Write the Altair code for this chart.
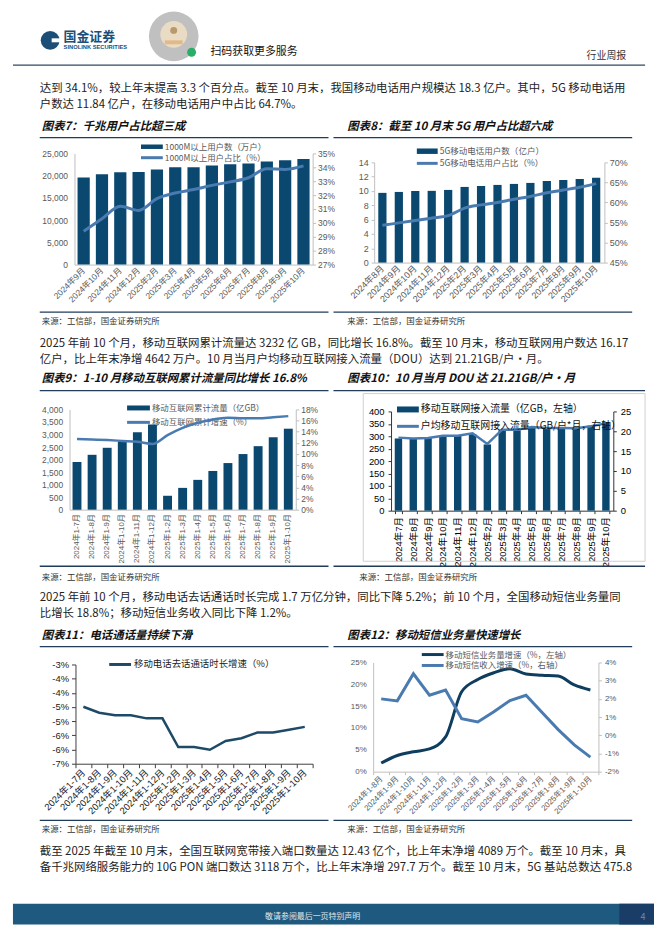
import altair as alt
import pandas as pd

FONT = "Noto Sans CJK SC"
LAT = "Liberation Sans, Noto Sans CJK SC"

NAVY = "#0b4870"
LIGHT = "#4a7bb0"
RULE = "#1f3d5a"
GREY = "#595959"

# ---------------- data ----------------
m7 = ["2024年9月", "2024年10月", "2024年11月", "2024年12月", "2025年2月", "2025年3月", "2025年4月",
      "2025年5月", "2025年6月", "2025年7月", "2025年8月", "2025年9月", "2025年10月"]
users7 = [19600, 20300, 20750, 20800, 21400, 21900, 21900, 22300, 22550, 22750, 23200, 23450, 23750]
share7 = [29.4, 30.3, 31.2, 30.9, 31.75, 32.15, 32.4, 32.7, 32.95, 33.25, 33.9, 33.85, 34.1]

m8 = ["2024年8月", "2024年9月", "2024年10月", "2024年11月", "2024年12月", "2025年2月", "2025年3月",
      "2025年4月", "2025年5月", "2025年6月", "2025年7月", "2025年8月", "2025年9月", "2025年10月"]
users8 = [9.74, 9.87, 10.0, 10.02, 10.15, 10.57, 10.7, 10.85, 10.99, 11.13, 11.4, 11.54, 11.68, 11.84]
share8 = [54.3, 54.9, 55.5, 56.1, 56.7, 58.6, 59.4, 60.0, 60.8, 61.5, 62.4, 63.1, 63.8, 64.7]

m9 = ["2024年1-7月", "2024年1-8月", "2024年1-9月", "2024年1-10月", "2024年1-11月", "2024年1-12月",
      "2025年1-2月", "2025年1-3月", "2025年1-4月", "2025年1-5月", "2025年1-6月", "2025年1-7月",
      "2025年1-8月", "2025年1-9月", "2025年1-10月"]
flow9 = [1900, 2190, 2470, 2720, 3090, 3400, 555, 870, 1190, 1545, 1860, 2220, 2535, 2890, 3232]
growth9 = [12.7, 12.6, 12.5, 12.35, 12.2, 11.8, 13.4, 14.7, 15.6, 16.2, 16.5, 16.4, 16.4, 16.6, 16.8]

m10 = ["2024年7月", "2024年8月", "2024年9月", "2024年10月", "2024年11月", "2024年12月", "2025年2月",
       "2025年3月", "2025年4月", "2025年5月", "2025年6月", "2025年7月", "2025年8月", "2025年9月", "2025年10月"]
flow10 = [291, 290, 293, 301, 301, 309, 267, 327, 324, 337, 335, 333, 332, 343, 357]
dou10 = [18.4, 18.2, 18.3, 18.9, 18.9, 19.5, 16.8, 20.4, 20.4, 21.1, 20.8, 20.8, 20.75, 21.25, 22.0]

m11 = list(m9)
call11 = [-4.49, -4.70, -4.79, -4.79, -4.90, -4.90, -5.91, -5.91, -6.01, -5.70, -5.60, -5.40, -5.40, -5.30, -5.20]

m12 = ["2024年1-8月", "2024年1-9月", "2024年1-10月", "2024年1-11月", "2024年1-12月", "2025年1-2月",
       "2025年1-3月", "2025年1-4月", "2025年1-5月", "2025年1-6月", "2025年1-7月", "2025年1-8月",
       "2025年1-9月", "2025年1-10月"]
sms12 = [1.97, 3.7, 4.55, 5.2, 7.95, 18.3, 21.1, 22.65, 23.56, 22.35, 22.1, 21.9, 19.85, 18.7]
rev12 = [2.0, 1.89, 3.38, 2.2, 2.49, 0.91, 0.73, 1.29, 1.91, 2.2, 1.25, 0.31, -0.53, -1.2]

para1 = ["达到 34.1%，较上年末提高 3.3 个百分点。截至 10 月末，我国移动电话用户规模达 18.3 亿户。其中，5G 移动电话用",
         "户数达 11.84 亿户，在移动电话用户中占比 64.7%。"]
para2 = ["2025 年前 10 个月，移动互联网累计流量达 3232 亿 GB，同比增长 16.8%。截至 10 月末，移动互联网用户数达 16.17",
         "亿户，比上年末净增 4642 万户。10 月当月户均移动互联网接入流量（DOU）达到 21.21GB/户·月。"]
para3 = ["2025 年前 10 个月，移动电话去话通话时长完成 1.7 万亿分钟，同比下降 5.2%；前 10 个月，全国移动短信业务量同",
         "比增长 18.8%；移动短信业务收入同比下降 1.2%。"]
para4 = ["截至 2025 年截至 10 月末，全国互联网宽带接入端口数量达 12.43 亿个，比上年末净增 4089 万个。截至 10 月末，具",
         "备千兆网络服务能力的 10G PON 端口数达 3118 万个，比上年末净增 297.7 万个。截至 10 月末，5G 基站总数达 475.8"]
SRC = "来源：工信部，国金证券研究所"

ONE = pd.DataFrame({"k": [0]})

# whole page is one canvas; page coordinate p -> local p - 8
W, H = 646, 920
OX, OY = 8, 8


def X(p):
    return p - OX


def Y(p):
    return p - OY


def text(x, y, s, size=11.5, color="#222222", weight="normal", style="normal",
         align="left", font=FONT, baseline="middle"):
    return alt.Chart(ONE).mark_text(
        text=s, fontSize=size, color=color, fontWeight=weight, fontStyle=style,
        align=align, baseline=baseline, font=font
    ).encode(x=alt.value(X(x)), y=alt.value(Y(y)))


def hline(x1, x2, y, color, w=1.3):
    return alt.Chart(ONE).mark_rule(color=color, strokeWidth=w).encode(
        x=alt.value(X(x1)), x2=alt.value(X(x2)), y=alt.value(Y(y)))


def box(x1, x2, y1, y2, fill="#ffffff", stroke=None, sw=1.0, fo=1.0):
    kw = dict(fill=fill, fillOpacity=fo)
    if stroke:
        kw.update(stroke=stroke, strokeWidth=sw)
    return alt.Chart(ONE).mark_rect(**kw).encode(
        x=alt.value(X(x1)), x2=alt.value(X(x2)), y=alt.value(Y(y1)), y2=alt.value(Y(y2)))


def dot(x, y, d, color, opacity=1.0):
    return alt.Chart(ONE).mark_point(filled=True, shape="circle", size=d * d, color=color,
                                     opacity=opacity, strokeWidth=0).encode(
        x=alt.value(X(x)), y=alt.value(Y(y)))


def ax(**kw):
    base = dict(title=None, grid=False, labelFont=LAT, labelFontSize=8.5, labelColor=GREY,
                domainColor="#bfbfbf", tickColor="#bfbfbf", labelOverlap=False, labelBound=False)
    base.update(kw)
    return alt.Axis(**base)


def xrange(p0, p1):
    return [X(p0), X(p1)]


def yrange(pbottom, ptop):
    return [Y(pbottom), Y(ptop)]


def left_off(p):
    return -X(p)


def right_off(p):
    return X(p) - W


def bottom_off(p):
    return Y(p) - H


def para(y0, lines, gap=16):
    return [text(35, y0 + i * gap, s) for i, s in enumerate(lines)]


# ---------------- chart 7 (plot: x 70-310, y 151-263) ----------------
df7 = pd.DataFrame({"m": m7, "v": users7, "p": share7})
x7 = alt.X("m:N", sort=m7,
           scale=alt.Scale(paddingInner=0.333, paddingOuter=0.167, range=xrange(70, 310)),
           axis=ax(orient="bottom", labelAngle=-45, labelAlign="right", labelBaseline="middle", ticks=False,
                   labelPadding=4, offset=bottom_off(263)))
bars7 = alt.Chart(df7).mark_bar(color=NAVY).encode(
    x=x7, y=alt.Y("v:Q", scale=alt.Scale(domain=[0, 25000], nice=False, range=yrange(263, 151)),
                  axis=ax(orient="left", values=list(range(0, 25001, 5000)), format=",.0f", ticks=False,
                          labelPadding=7, offset=left_off(70))))
line7 = alt.Chart(df7).mark_line(color=LIGHT, strokeWidth=3, interpolate="monotone").encode(
    x=x7, y=alt.Y("p:Q", scale=alt.Scale(domain=[27, 35], nice=False, zero=False, range=yrange(263, 151)),
                  axis=ax(orient="right", values=list(range(27, 36)), labelExpr="datum.value + '%'",
                          tickSize=3, labelPadding=2, offset=right_off(310))))
c7 = alt.layer(bars7, line7).resolve_scale(y="independent")
leg7 = [box(137, 159, 142, 146.5, fill=NAVY),
        text(161, 144.3, "1000M以上用户数（万户）", size=8.5, color=GREY),
        hline(137, 159, 155.3, LIGHT, 3),
        text(161, 155.3, "1000M以上用户占比（%）", size=8.5, color=GREY)]

# ---------------- chart 8 (plot: x 372-604, y 160-261) ----------------
df8 = pd.DataFrame({"m": m8, "v": users8, "p": share8})
x8 = alt.X("m:N", sort=m8,
           scale=alt.Scale(paddingInner=0.5, paddingOuter=0.25, range=xrange(372, 604)),
           axis=ax(orient="bottom", labelAngle=-45, labelAlign="right", labelBaseline="middle", ticks=False,
                   labelPadding=4, labelFontSize=9, offset=bottom_off(261)))
bars8 = alt.Chart(df8).mark_bar(color=NAVY).encode(
    x=x8, y=alt.Y("v:Q", scale=alt.Scale(domain=[0, 14], nice=False, range=yrange(261, 160)),
                  axis=ax(orient="left", values=list(range(0, 15, 2)), tickSize=3, labelPadding=3,
                          labelFontSize=9, offset=left_off(372))))
line8 = alt.Chart(df8).mark_line(color=LIGHT, strokeWidth=3, interpolate="monotone").encode(
    x=x8, y=alt.Y("p:Q", scale=alt.Scale(domain=[45, 70], nice=False, zero=False, range=yrange(261, 160)),
                  axis=ax(orient="right", values=list(range(45, 71, 5)), labelExpr="datum.value + '%'",
                          tickSize=3, labelPadding=2, labelFontSize=9, offset=right_off(604))))
c8 = alt.layer(bars8, line8).resolve_scale(y="independent")
leg8 = [box(415, 436, 146, 151.5, fill=NAVY),
        text(438, 148.8, "5G移动电话用户数（亿户）", size=8.6, color=GREY),
        hline(415, 436, 161, LIGHT, 3),
        text(438, 161, "5G移动电话用户占比（%）", size=8.6, color=GREY)]

# ---------------- chart 9 (plot: x 65-293, y 409-510) ----------------
df9 = pd.DataFrame({"m": m9, "v": flow9, "p": growth9})
x9 = alt.X("m:N", sort=m9,
           scale=alt.Scale(paddingInner=0.41, paddingOuter=0.2, range=xrange(65, 293)),
           axis=ax(orient="bottom", labelAngle=-90, labelAlign="right", labelBaseline="middle", ticks=False,
                   labelPadding=4, labelFontSize=8, offset=bottom_off(510)))
bars9 = alt.Chart(df9).mark_bar(color=NAVY).encode(
    x=x9, y=alt.Y("v:Q", scale=alt.Scale(domain=[0, 4000], nice=False, range=yrange(510, 409)),
                  axis=ax(orient="left", values=list(range(0, 4001, 500)), format=",.0f", ticks=False,
                          labelPadding=7, offset=left_off(65))))
line9 = alt.Chart(df9).mark_line(color=LIGHT, strokeWidth=2.5, interpolate="monotone").encode(
    x=x9, y=alt.Y("p:Q", scale=alt.Scale(domain=[0, 18], nice=False, range=yrange(510, 409)),
                  axis=ax(orient="right", values=list(range(0, 19, 2)), labelExpr="datum.value + '%'",
                          tickSize=3, labelPadding=2, offset=right_off(293))))
c9 = alt.layer(bars9, line9).resolve_scale(y="independent")
leg9 = [box(123, 146, 405, 410, fill=NAVY),
        text(148, 407.5, "移动互联网累计流量（亿GB）", size=8.5, color=GREY),
        hline(123, 146, 422, LIGHT, 3),
        text(148, 422, "移动互联网累计增速（%）", size=8.5, color=GREY)]

# ---------------- chart 10 (plot: x 389-613, y 411-511) ----------------
df10 = pd.DataFrame({"m": m10, "v": flow10, "p": dou10})
ax10 = dict(labelColor="#000000", domainColor="#333333", tickColor="#333333", labelFontSize=9.5)
x10 = alt.X("m:N", sort=m10,
            scale=alt.Scale(paddingInner=0.5, paddingOuter=0.25, range=xrange(389, 613)),
            axis=ax(orient="bottom", labelAngle=-90, labelAlign="right", labelBaseline="middle",
                    tickBand="extent", tickSize=3, labelPadding=3, offset=bottom_off(511), **ax10))
bars10 = alt.Chart(df10).mark_bar(color=NAVY).encode(
    x=x10, y=alt.Y("v:Q", scale=alt.Scale(domain=[0, 400], nice=False, range=yrange(511, 411)),
                   axis=ax(orient="left", values=list(range(0, 401, 50)), tickSize=3, labelPadding=4,
                           offset=left_off(389), **ax10)))
line10 = alt.Chart(df10).mark_line(color=LIGHT, strokeWidth=2.5).encode(
    x=x10, y=alt.Y("p:Q", scale=alt.Scale(domain=[0, 25], nice=False, range=yrange(511, 411)),
                   axis=ax(orient="right", values=list(range(0, 26, 5)), tickSize=3, labelPadding=4,
                           offset=right_off(613), **ax10)))
c10 = alt.layer(bars10, line10).resolve_scale(y="independent")
frame10 = box(361, 645, 393, 562, fill="#ffffff", stroke="#d0d0d0", sw=1, fo=0)
leg10 = [box(395, 417, 406, 412, fill=NAVY),
         text(419, 409, "移动互联网接入流量（亿GB，左轴）", size=10, color="#111111"),
         hline(395, 417, 426, LIGHT, 3),
         text(419, 426, "户均移动互联网接入流量（GB/户*月，右轴）", size=10, color="#111111")]

# ---------------- chart 11 (plot: x 71-310, y 666-766) ----------------
LINE11 = "#1d4a66"
df11 = pd.DataFrame({"m": m11, "v": call11})
vals11 = [-3, -3.5, -4, -4.5, -5, -5.5, -6, -6.5]
c11 = alt.Chart(df11).mark_line(color=LINE11, strokeWidth=2.5).encode(
    x=alt.X("m:N", sort=m11,
            scale=alt.Scale(type="band", paddingInner=0, paddingOuter=0, range=xrange(71, 310)),
            axis=ax(orient="bottom", labelAngle=-45, labelAlign="right", labelBaseline="middle",
                    tickBand="extent", tickSize=4, labelPadding=3, labelFontSize=9.5, labelColor="#1a1a1a",
                    domainColor="#404040", tickColor="#404040", offset=bottom_off(766))),
    y=alt.Y("v:Q", scale=alt.Scale(domain=[-6.5, -3], nice=False, zero=False, range=yrange(766, 666)),
            axis=ax(orient="left", values=vals11, labelExpr="'-' + round(abs(datum.value)) + '%'",
                    tickSize=4, labelPadding=3, labelFontSize=9.5, labelColor="#1a1a1a",
                    domainColor="#404040", tickColor="#404040", offset=left_off(71))))
leg11 = [hline(105, 127, 666, LINE11, 3),
         text(130, 666, "移动电话去话通话时长增速（%）", size=9.5, color="#222222")]

# ---------------- chart 12 (plot: x 371-598, y 664-774) ----------------
DARK12 = "#0e3d5e"
df12 = pd.DataFrame({"m": m12, "a": sms12, "b": rev12})
x12 = alt.X("m:N", sort=m12,
            scale=alt.Scale(type="band", paddingInner=0, paddingOuter=0, range=xrange(371, 598)),
            axis=ax(orient="bottom", labelAngle=-45, labelAlign="right", labelBaseline="middle",
                    tickBand="extent", tickSize=3, labelPadding=3, labelFontSize=8, offset=bottom_off(774)))
l12a = alt.Chart(df12).mark_line(color=DARK12, strokeWidth=3, interpolate="monotone").encode(
    x=x12, y=alt.Y("a:Q", scale=alt.Scale(domain=[0, 25], nice=False, range=yrange(774, 664)),
                   axis=ax(orient="left", values=list(range(0, 26, 5)), labelExpr="datum.value + '%'",
                           ticks=False, labelPadding=7, labelFontSize=8, offset=left_off(371))))
l12b = alt.Chart(df12).mark_line(color=LIGHT, strokeWidth=3).encode(
    x=x12, y=alt.Y("b:Q", scale=alt.Scale(domain=[-2, 4], nice=False, zero=False, range=yrange(774, 664)),
                   axis=ax(orient="right", values=list(range(-2, 5)), labelExpr="datum.value + '%'",
                           tickSize=3, labelPadding=3, labelFontSize=8, offset=right_off(598))))
c12 = alt.layer(l12a, l12b).resolve_scale(y="independent")
leg12 = [hline(420, 442, 656, DARK12, 3),
         text(444, 656, "移动短信业务量增速（%，左轴）", size=8.5, color=GREY),
         hline(420, 442, 667, LIGHT, 3),
         text(444, 667, "移动短信收入增速（%，右轴）", size=8.5, color=GREY)]


# ---------------- page text, rules, header, footer ----------------
def title(x, y, s):
    return text(x, y, s, size=11.5, weight="bold", style="italic", color="#111111")


def src(x, y):
    return text(x, y, SRC, size=8.5, color="#333333")


header = [
    dot(45.5, 37, 19, "#1b4f78"),
    box(47, 56, 35, 39, fill="#ffffff"),
    text(59, 34, "国金证券", size=13, weight="bold", color="#1b4f78"),
    text(59, 44, "SINOLINK SECURITIES", size=5.8, weight="bold", color="#1b4f78", font=LAT),
    dot(170, 33, 50, "#8c8c8c", 0.55),
    dot(170, 31, 27, "#eadbc4"),
    dot(170, 27, 7, "#b89a6a"),
    box(161, 179, 37, 41, fill="#e3b98a"),
    dot(188, 49, 9, "#2aae67"),
    text(207, 49, "扫码获取更多服务", size=11, color="#111111"),
    text(626, 53, "行业周报", size=10, color="#333333", align="right"),
    hline(8, 645, 62, "#2a4a66", 1.2),
]

page_text = [
    *para(86, para1),
    title(37, 124, "图表7：千兆用户占比超三成"),
    title(345, 124, "图表8：截至 10 月末 5G 用户占比超六成"),
    hline(35, 326, 135, RULE), hline(331, 632, 135, RULE),
    hline(35, 326, 311, RULE), hline(331, 632, 311, RULE),
    src(37, 320), src(345, 320),
    *para(343, para2),
    title(37, 378, "图表9：1-10 月移动互联网累计流量同比增长 16.8%"),
    title(345, 378, "图表10：10 月当月 DOU 达 21.21GB/户·月"),
    hline(35, 326, 390, RULE), hline(331, 645, 390, RULE),
    hline(35, 326, 567, RULE), hline(331, 645, 567, RULE),
    src(37, 578), src(357, 578),
    *para(599, para3),
    title(37, 637, "图表11：电话通话量持续下滑"),
    title(345, 637, "图表12：移动短信业务量快速增长"),
    hline(35, 326, 648, RULE), hline(331, 632, 648, RULE),
    hline(35, 326, 823, RULE), hline(331, 632, 823, RULE),
    src(37, 832), src(345, 832),
    *para(855, para4),
]

footer = [
    box(8, 654, 907, 928, fill="#1e5a7f"),
    box(619, 654, 907, 928, fill="#1a3d68"),
    text(310, 920, "敬请参阅最后一页特别声明", size=8, color="#dfe8ef", align="center"),
    text(643, 920, "4", size=9, color="#6d8aa8", align="center"),
]

layers = (header + page_text + footer +
          leg7 + [c7] +
          leg8 + [c8] +
          leg9 + [c9] +
          [frame10, c10] + leg10 +
          [c11] + leg11 +
          [c12] + leg12)

chart = alt.layer(*layers).resolve_scale(x="independent", y="independent").properties(
    width=W, height=H, padding=0
).configure_view(strokeWidth=0)

chart.save("out.html", embed_options={"renderer": "svg", "actions": False})
